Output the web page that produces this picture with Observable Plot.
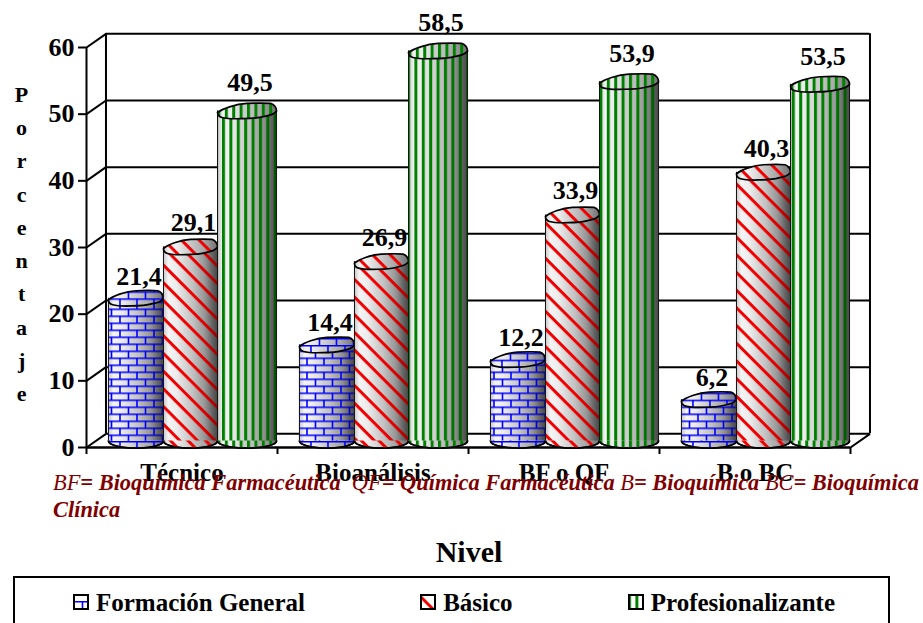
<!DOCTYPE html>
<html lang="es">
<head>
<meta charset="utf-8">
<script src="https://cdn.jsdelivr.net/npm/d3@7"></script>
<script src="https://cdn.jsdelivr.net/npm/@observablehq/plot@0.6"></script>
<style>
  html, body { margin: 0; padding: 0; background: #fff; }
  #page { position: relative; width: 923px; height: 623px; overflow: hidden;
          font-family: "Liberation Serif", serif; color: #000; }
  #chart { position: absolute; left: 0; top: 0; }
  #note { position: absolute; left: 53px; top: 470px; white-space: nowrap;
          font-size: 22.4px; line-height: 26.5px; font-style: italic; font-weight: bold; color: #800000; }
  #note span { font-weight: normal; }
  #axis-name { position: absolute; left: 0; width: 938px; top: 534px; text-align: center;
               font-size: 30px; font-weight: bold; line-height: 36px; }
  #legend { position: absolute; left: 13px; top: 576px; width: 877px; height: 70px; box-sizing: border-box;
            border: 2px solid #000; padding: 10px 53px 0 58px; display: flex; justify-content: space-between;
            font-size: 25px; font-weight: bold; line-height: 30px; }
  #legend div { display: flex; align-items: center; gap: 7px; height: 30px; }
  #legend svg { display: block; margin-top: -2px; }
</style>
</head>
<body>
<div id="page">
  <div id="chart"></div>
  <div id="note"><span>BF</span>= Bioquímica Farmacéutica &nbsp;<span>QF</span>= Química Farmacéutica <span>B</span>= Bioquímica <span>BC</span>= Bioquímica<br>Clínica</div>
  <div id="axis-name">Nivel</div>
  <div id="legend"></div>
</div>
<script>
// Percentages by academic degree and curriculum block
const carreras = ["Técnico", "Bioanálisis", "BF o QF", "B o BC"];
const formacionGeneral = [21.4, 14.4, 12.2, 6.2];
const basico = [29.1, 26.9, 33.9, 40.3];
const profesionalizante = [49.5, 58.5, 53.9, 53.5];
const yTicks = [0, 10, 20, 30, 40, 50, 60];
const yTitle = "Porcentaje";

const series = [
  {name: "Formación General", values: formacionGeneral, pattern: "brick"},
  {name: "Básico", values: basico, pattern: "stripe"},
  {name: "Profesionalizante", values: profesionalizante, pattern: "column"}
];

// Pseudo-3D depth of the box, in scale units, and half of it in pixels for the cylinders
const depthX = 0.102, depthY = 2.05;
const midY = -6.5;
// Side-by-side cylinder edges inside each category slot
const edges = [0.115, 0.403, 0.686, 0.995];
// Distance in pixels from the lid of each series' cylinders up to its value label
const labelLift = [22, 24, 28];

const slotMiddle = (i, j) => i + (edges[j] + edges[j + 1]) / 2;

// Slightly uneven lid of a cylinder, scaled from the dot's radius
const lid = {
  draw(c, size) {
    const a = Math.sqrt(size / Math.PI), b = 7.6;
    const X = (u) => u * a, Y = (v) => v * b;
    const curve = (p) => c.bezierCurveTo(X(p[0]), Y(p[1]), X(p[2]), Y(p[3]), X(p[4]), Y(p[5]));
    c.moveTo(X(-1), Y(0.2));
    [[-0.85, -0.25, -0.4, -0.95, 0, -1],
     [0.3, -1.05, 0.65, -1.05, 0.8, -1],
     [0.92, -0.9, 1, -0.4, 1, 0],
     [0.95, 0.3, 0.75, 0.6, 0.6, 0.7],
     [0.3, 1, 0, 1, -0.15, 1],
     [-0.45, 1.05, -0.7, 1, -0.85, 0.85],
     [-0.95, 0.75, -1, 0.5, -1, 0.2]].forEach(curve);
    c.closePath();
  }
};
// Plain ellipse for the foot of a cylinder
const foot = {
  draw(c, size) {
    const a = Math.sqrt(size / Math.PI), b = 7, k = 0.5523;
    c.moveTo(-a, 0);
    c.bezierCurveTo(-a, -k * b, -k * a, -b, 0, -b);
    c.bezierCurveTo(k * a, -b, a, -k * b, a, 0);
    c.bezierCurveTo(a, k * b, k * a, b, 0, b);
    c.bezierCurveTo(-k * a, b, -a, k * b, -a, 0);
    c.closePath();
  }
};

const cylinderMarks = series.flatMap((s, j) => {
  const rows = s.values.map((value, i) => ({
    value,
    x1: i + edges[j],
    x2: i + edges[j + 1],
    xm: slotMiddle(i, j)
  }));
  const r = ((edges[j + 1] - edges[j]) * 191) / 2;
  const place = {dy: midY};
  const body = (fill) => Plot.rect(rows, {x1: "x1", x2: "x2", y1: 0, y2: "value", fill, ...place});
  const end = (y, symbol, fill, strokeWidth) =>
    Plot.dot(rows, {x: "xm", y, r, symbol, fill, stroke: strokeWidth ? "#000" : "none", strokeWidth, ...place});
  return [
    end(0, foot, "url(#shade)", 1.6),
    end(0, foot, `url(#${s.pattern})`, 1.6),
    body("url(#shade)"),
    body(`url(#${s.pattern})`),
    body("url(#darken)"),
    Plot.ruleX(rows, {x: "x1", y1: 0, y2: "value", stroke: "#111", strokeWidth: 1, ...place}),
    Plot.ruleX(rows, {x: "x2", y1: 0, y2: "value", stroke: "#111", strokeWidth: 1, ...place}),
    end("value", lid, "url(#shade)", 0),
    end("value", lid, `url(#${s.pattern})`, 1.7)
  ];
});

// Value labels, decimal comma
const labelMarks = series.map((s, j) =>
  Plot.text(s.values, {
    x: (_, i) => slotMiddle(i, j),
    y: (d) => d,
    text: (d) => d3.format(".1f")(d).replace(".", ","),
    dx: 3,
    dy: midY - labelLift[j],
    fontSize: 26,
    fontWeight: "bold",
    fill: "#000"
  })
);

const chart = Plot.plot({
  width: 923,
  height: 500,
  marginLeft: 86,
  marginRight: 73,
  marginTop: 47,
  marginBottom: 53,
  style: {fontFamily: "'Liberation Serif', serif", fontSize: "26px", fontWeight: "bold", color: "#000", background: "transparent"},
  x: {domain: [0, 4], axis: null},
  y: {domain: [0, 60], axis: null},
  marks: [
    // Back wall: grid and its two uprights
    Plot.ruleY(yTicks, {y: (t) => t + depthY, x1: depthX, x2: 4 + depthX, stroke: "#000", strokeWidth: 2}),
    Plot.ruleX([depthX, 4 + depthX], {y1: depthY, y2: 60 + depthY, stroke: "#000", strokeWidth: 2}),
    // Side wall: diagonals running back from every tick, plus the floor's far corner
    Plot.link(yTicks, {x1: 0, y1: (t) => t, x2: depthX, y2: (t) => t + depthY, stroke: "#000", strokeWidth: 2}),
    Plot.link([4], {x1: (d) => d, y1: 0, x2: (d) => d + depthX, y2: depthY, stroke: "#000", strokeWidth: 2}),
    Plot.ruleX([0], {y1: 0, y2: 60, stroke: "#000", strokeWidth: 2}),
    Plot.ruleY([0], {x1: 0, x2: 4, stroke: "#000", strokeWidth: 2.5}),
    // Axes
    Plot.axisY({ticks: yTicks, tickSize: 8, tickPadding: 4, label: null, strokeWidth: 2, fontSize: 26}),
    Plot.axisX({ticks: [0, 1, 2, 3, 4], tickSize: 7, tickFormat: () => "", label: null, strokeWidth: 2}),
    Plot.axisX({
      ticks: carreras.map((_, i) => i + 0.5),
      tickSize: 0,
      tickPadding: 16,
      tickFormat: (d) => carreras[d - 0.5],
      label: null,
      fontSize: 25
    }),
    ...cylinderMarks,
    ...labelMarks,
    // Axis title set vertically, one letter per line
    Plot.text([yTitle], {
      x: -0.34,
      y: 31,
      text: (d) => [...d].join("\n"),
      lineHeight: 1.51,
      lineAnchor: "middle",
      fontSize: 22,
      fontWeight: "bold",
      fill: "#000"
    })
  ]
});

// Fill definitions shared by the cylinders and the legend swatches
const defs = d3.select(chart).insert("defs", ":first-child");
const shade = defs.append("linearGradient").attr("id", "shade");
[[0, "#c4c4c4"], [0.1, "#f4f4f4"], [0.25, "#ececec"], [0.45, "#cfcfcf"], [0.75, "#a8a8a8"], [1, "#707070"]]
  .forEach(([o, c]) => shade.append("stop").attr("offset", o).attr("stop-color", c));
const darken = defs.append("linearGradient").attr("id", "darken");
[[0, 0], [0.55, 0], [0.8, 0.1], [1, 0.35]]
  .forEach(([o, a]) => darken.append("stop").attr("offset", o).attr("stop-color", "#000").attr("stop-opacity", a));

const brick = defs.append("pattern").attr("id", "brick").attr("patternUnits", "userSpaceOnUse")
  .attr("width", 17).attr("height", 14);
brick.append("path").attr("d", "M0 0.8H17M0 7.8H17M1 0.8V7.8M9.5 7.8V14.8")
  .attr("stroke", "#0000ff").attr("stroke-width", 1.6).attr("fill", "none");

const stripe = defs.append("pattern").attr("id", "stripe").attr("patternUnits", "userSpaceOnUse")
  .attr("width", 12.5).attr("height", 12.5).attr("patternTransform", "rotate(45)");
stripe.append("rect").attr("width", 12.5).attr("height", 3).attr("fill", "#f00000");

const column = defs.append("pattern").attr("id", "column").attr("patternUnits", "userSpaceOnUse")
  .attr("width", 7.4).attr("height", 10);
column.append("rect").attr("width", 3).attr("height", 10).attr("fill", "#008000");

document.getElementById("chart").append(chart);

// Legend row below the chart
const legend = d3.select("#legend");
for (const s of series) {
  const item = legend.append("div");
  const swatch = item.append("svg").attr("width", 16).attr("height", 16);
  swatch.append("rect").attr("x", 1).attr("y", 1).attr("width", 14).attr("height", 14).attr("fill", "#fff");
  swatch.append("rect").attr("x", 1).attr("y", 1).attr("width", 14).attr("height", 14)
    .attr("fill", `url(#${s.pattern})`).attr("stroke", "#000").attr("stroke-width", 2);
  item.append("span").text(s.name);
}
</script>
</body>
</html>
